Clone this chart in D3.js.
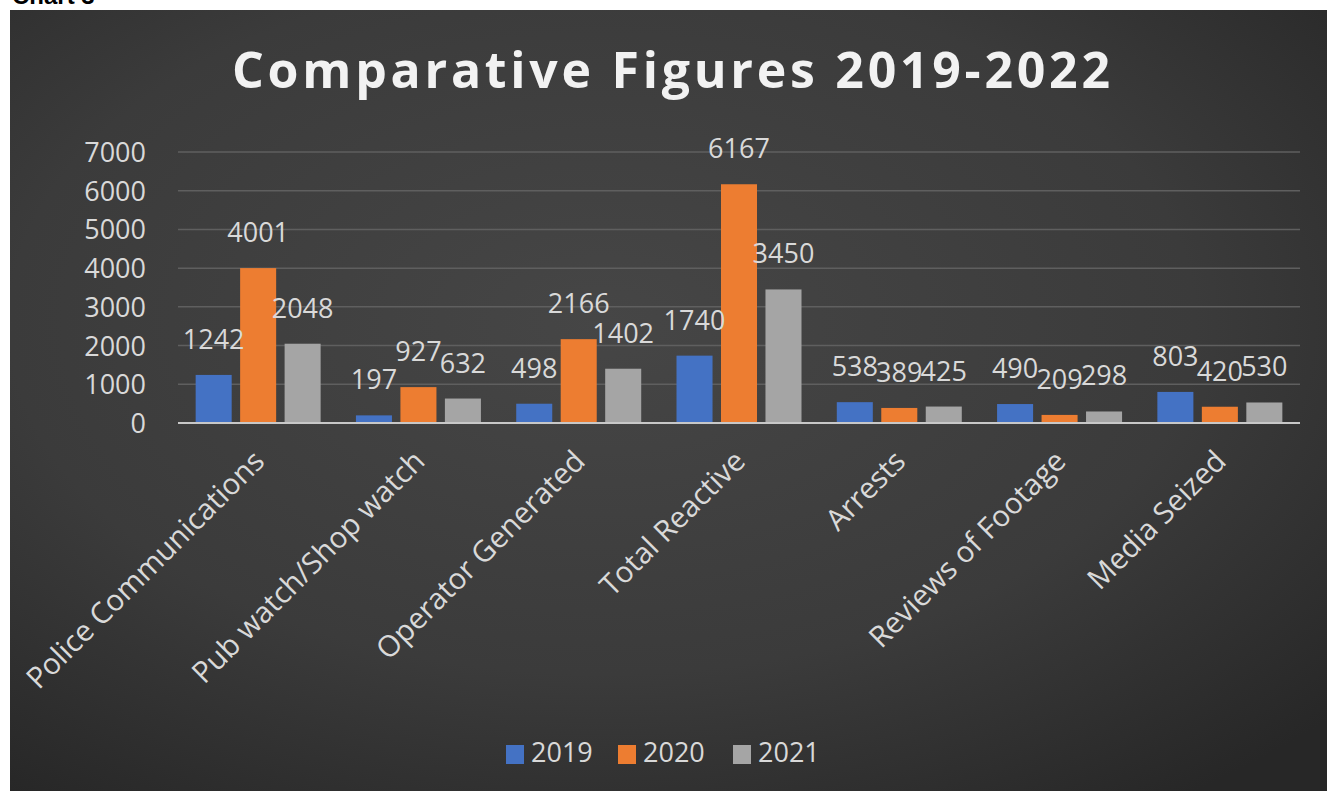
<!DOCTYPE html>
<html>
<head>
<meta charset="utf-8">
<script src="https://cdn.jsdelivr.net/npm/d3@7"></script>
<style>
  html, body { margin: 0; padding: 0; background: #ffffff; }
  svg { display: block; }
</style>
</head>
<body>
<svg id="chart" width="1327" height="791"></svg>
<script>
const categories = ["Police Communications", "Pub watch/Shop watch", "Operator Generated", "Total Reactive", "Arrests", "Reviews of Footage", "Media Seized"];
const seriesNames = ["2019", "2020", "2021"];
const values2019 = [1242, 197, 498, 1740, 538, 490, 803];
const values2020 = [4001, 927, 2166, 6167, 389, 209, 420];
const values2021 = [2048, 632, 1402, 3450, 425, 298, 530];
const yTicks = [0, 1000, 2000, 3000, 4000, 5000, 6000, 7000];
const titleText = "Comparative Figures 2019-2022";
const captionText = "Chart 3";

const seriesValues = [values2019, values2020, values2021];
const colors = ["#4472C4", "#ED7D31", "#A5A5A5"];

const svg = d3.select("#chart");
const W = 1327, H = 791;

const defs = svg.append("defs");
const bg = defs.append("radialGradient").attr("id", "bg")
  .attr("cx", "45%").attr("cy", "40%").attr("r", "75%");
bg.append("stop").attr("offset", "0%").attr("stop-color", "#464646");
bg.append("stop").attr("offset", "60%").attr("stop-color", "#3b3b3b");
bg.append("stop").attr("offset", "100%").attr("stop-color", "#272727");

svg.append("text").text(captionText)
  .attr("x", 12).attr("y", 4)
  .attr("font-family", "Liberation Sans, Arial, sans-serif")
  .attr("font-size", 24).attr("font-weight", "bold").attr("fill", "#000");

svg.append("rect").attr("x", 10).attr("y", 10).attr("width", W - 10).attr("height", H - 10)
  .attr("fill", "url(#bg)");

const font = "'Open Sans', 'DejaVu Sans', sans-serif";
const textColor = "#d9d9d9";

const plotLeft = 178, plotRight = 1300;
const y = d3.scaleLinear().domain([0, 7000]).range([423, 152]);
const x0 = d3.scaleBand().domain(categories).range([plotLeft, plotRight]).padding(0);
const groupHalf = 62.5;
const x1 = d3.scaleBand().domain(seriesNames)
  .range([x0.bandwidth() / 2 - groupHalf, x0.bandwidth() / 2 + groupHalf])
  .paddingInner(0.19).paddingOuter(0);

// gridlines
svg.append("g").selectAll("line").data(yTicks.filter(d => d > 0)).join("line")
  .attr("x1", plotLeft).attr("x2", plotRight)
  .attr("y1", d => y(d)).attr("y2", d => y(d))
  .attr("stroke", "#5f5f5f").attr("stroke-width", 1.5);

// y axis labels
const yAxis = d3.axisLeft(y).tickValues(yTicks).tickSize(0).tickPadding(0).tickFormat(d3.format("d"));
const yG = svg.append("g").attr("transform", "translate(146,0)").call(yAxis);
yG.select(".domain").remove();
yG.selectAll("text").attr("font-family", font).attr("font-size", 27).attr("fill", textColor)
  .attr("dy", "0.35em");

// bars
const groups = svg.append("g").selectAll("g").data(categories).join("g")
  .attr("transform", d => `translate(${x0(d)},0)`);

groups.selectAll("rect").data((d, i) => seriesNames.map((s, j) => ({ s, j, v: seriesValues[j][i] })))
  .join("rect")
  .attr("x", d => x1(d.s)).attr("width", x1.bandwidth())
  .attr("y", d => y(d.v)).attr("height", d => y(0) - y(d.v))
  .attr("fill", d => colors[d.j]);

groups.selectAll("text.lbl").data((d, i) => seriesNames.map((s, j) => ({ s, j, v: seriesValues[j][i] })))
  .join("text").attr("class", "lbl")
  .attr("x", d => x1(d.s) + x1.bandwidth() / 2)
  .attr("y", d => y(d.v) - 26)
  .attr("text-anchor", "middle")
  .attr("font-family", font).attr("font-size", 27).attr("fill", textColor)
  .text(d => d.v);

// zero axis
svg.append("line").attr("x1", plotLeft).attr("x2", plotRight)
  .attr("y1", y(0)).attr("y2", y(0)).attr("stroke", "#c8c8c8").attr("stroke-width", 2);

// category labels
const xAxis = d3.axisBottom(x0).tickSize(0).tickPadding(0);
const xG = svg.append("g").attr("transform", `translate(0,${y(0)})`).call(xAxis);
xG.select(".domain").remove();
xG.selectAll("text")
  .attr("font-family", font).attr("font-size", 29.5).attr("fill", textColor)
  .attr("text-anchor", "end")
  .attr("dy", 0)
  .attr("transform", "translate(8,40) rotate(-45)");

// title
svg.append("text").text(titleText)
  .attr("x", 671).attr("y", 88).attr("text-anchor", "middle")
  .attr("font-family", font).attr("font-weight", "bold").attr("font-size", 50)
  .attr("fill", "#f2f2f2")
  .attr("textLength", 878).attr("lengthAdjust", "spacing");

// legend
const legendX = [506, 618, 733];
const legend = svg.append("g").selectAll("g").data(seriesNames).join("g")
  .attr("transform", (d, i) => `translate(${legendX[i]},745)`);
legend.append("rect").attr("width", 18).attr("height", 19).attr("fill", (d, i) => colors[i]);
legend.append("text").attr("x", 25).attr("y", 17)
  .attr("font-family", font).attr("font-size", 27).attr("fill", textColor)
  .text(d => d);
</script>
</body>
</html>
